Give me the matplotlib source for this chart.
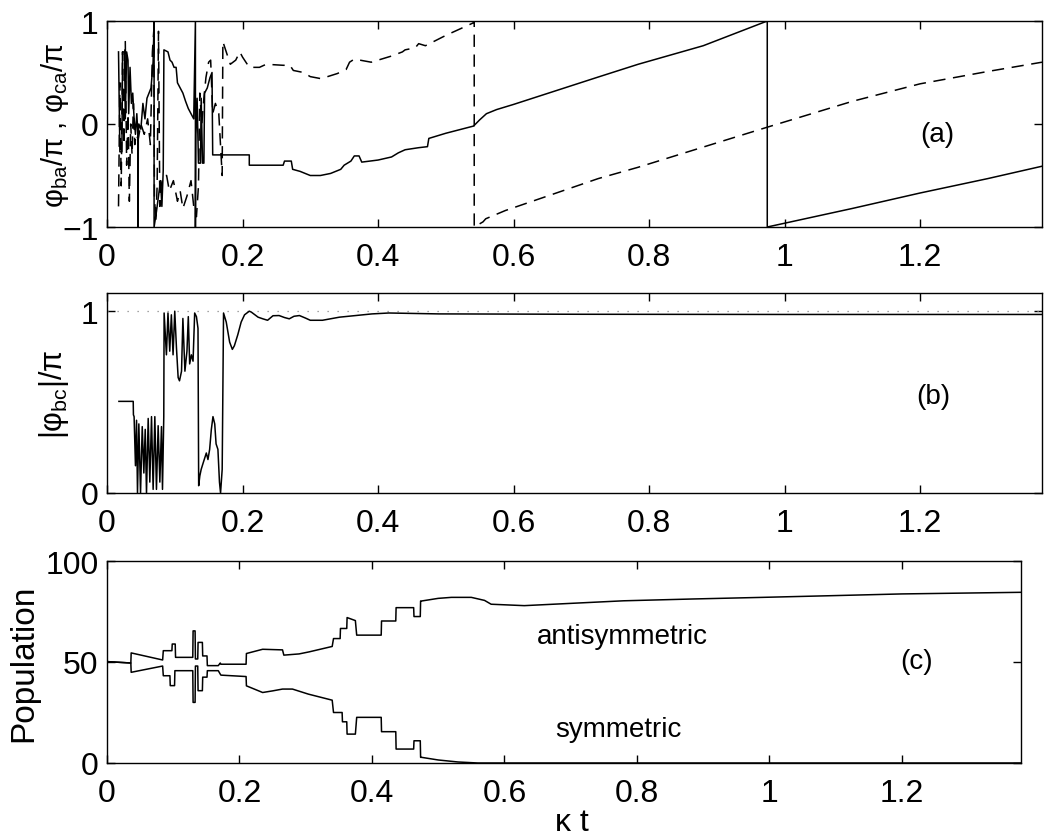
import matplotlib
matplotlib.use("Agg")
import matplotlib.pyplot as plt

plt.rcParams['font.family'] = ['Liberation Sans', 'DejaVu Sans']
plt.rcParams['mathtext.fontset'] = 'custom'
plt.rcParams['mathtext.rm'] = 'Liberation Sans'
plt.rcParams['mathtext.it'] = 'Liberation Sans:italic'
plt.rcParams['mathtext.sf'] = 'Liberation Sans'

# ---------------- data ----------------
# panel (a): phi_ba/pi (solid) and phi_ca/pi (dashed)
t_ba = [0.017, 0.019, 0.022, 0.023, 0.026, 0.027, 0.029, 0.031, 0.032, 0.034,
        0.036, 0.038, 0.040, 0.042, 0.044, 0.0458, 0.046, 0.0462, 0.047, 0.050,
        0.053, 0.056, 0.059, 0.062, 0.065, 0.068, 0.0695, 0.0695, 0.073, 0.076,
        0.079, 0.081, 0.083, 0.084, 0.090, 0.093, 0.096, 0.099, 0.102, 0.104,
        0.108, 0.112, 0.116, 0.120, 0.124, 0.128, 0.1305, 0.1305, 0.131, 0.133,
        0.135, 0.138, 0.139, 0.141, 0.143, 0.144, 0.148, 0.152, 0.155, 0.156,
        0.210, 0.210, 0.260, 0.262, 0.272, 0.274, 0.285, 0.300, 0.315, 0.330,
        0.345, 0.350, 0.360, 0.365, 0.372, 0.376, 0.400, 0.420, 0.430, 0.440,
        0.460, 0.473, 0.475, 0.500, 0.541, 0.550, 0.560, 0.575, 0.600, 0.725,
        0.784, 0.880, 0.9745, 0.9745, 1.100, 1.200, 1.300, 1.380]
v_ba = [0.70, -0.27, -0.27, 0.70, 0.70, 0.05, 0.70, 0.62, 0.10, 0.55,
        0.20, 0.30, 0.05, -0.10, 0.10, -0.12, -1.00, -0.10, 0.00, -0.05,
        0.20, 0.05, 0.25, 0.30, 0.35, 0.60, 1.00, -1.00, -0.85, -0.70,
        -0.55, -0.80, -0.45, 0.72, 0.70, 0.62, 0.60, 0.55, 0.55, 0.40,
        0.35, 0.30, 0.22, 0.15, 0.10, 0.05, 1.00, -1.00, -0.10, 0.25,
        -0.38, -0.38, 0.25, -0.38, -0.38, 0.30, 0.35, 0.45, 0.50, -0.30,
        -0.30, -0.40, -0.40, -0.36, -0.36, -0.44, -0.46, -0.50, -0.50, -0.48,
        -0.44, -0.40, -0.36, -0.31, -0.31, -0.37, -0.35, -0.32, -0.28, -0.25,
        -0.23, -0.22, -0.14, -0.09, -0.02, 0.04, 0.10, 0.14, 0.19, 0.456,
        0.58, 0.76, 1.00, -1.00, -0.82, -0.67, -0.53, -0.41]

t_ca = [0.017, 0.019, 0.021, 0.023, 0.025, 0.027, 0.029, 0.031, 0.033, 0.035,
        0.037, 0.039, 0.041, 0.043, 0.046, 0.050, 0.055, 0.060, 0.064, 0.067,
        0.069, 0.070, 0.072, 0.074, 0.076, 0.078, 0.080, 0.083, 0.088, 0.092,
        0.098, 0.104, 0.108, 0.112, 0.118, 0.124, 0.128, 0.132, 0.135, 0.137,
        0.140, 0.143, 0.146, 0.150, 0.153, 0.156, 0.160, 0.165, 0.170, 0.171,
        0.176, 0.182, 0.190, 0.196, 0.200, 0.205, 0.210, 0.225, 0.235, 0.260,
        0.270, 0.275, 0.290, 0.300, 0.316, 0.340, 0.353, 0.358, 0.365, 0.390,
        0.420, 0.436, 0.440, 0.455, 0.460, 0.470, 0.500, 0.540, 0.542, 0.542,
        0.555, 0.559, 0.588, 0.725, 0.784, 0.975, 1.100, 1.200, 1.300, 1.380]
v_ca = [-0.80, 0.40, -0.60, 0.70, -0.20, 0.80, -0.40, 0.10, -0.75, 0.00,
        -0.30, 0.20, -0.20, -0.10, -0.15, 0.00, -0.10, 0.05, -0.20, 0.70,
        0.90, -0.70, -0.95, -0.60, 0.90, -0.80, -0.60, -0.50, -0.50, -0.65,
        -0.55, -0.75, -0.65, -0.82, -0.70, -0.55, -0.80, -0.90, -0.60, 0.30,
        0.00, 0.25, 0.45, 0.60, 0.62, 0.10, 0.20, 0.10, -0.50, 0.80,
        0.70, 0.58, 0.62, 0.70, 0.65, 0.60, 0.55, 0.55, 0.58, 0.57,
        0.57, 0.52, 0.50, 0.46, 0.44, 0.49, 0.53, 0.60, 0.63, 0.60,
        0.66, 0.70, 0.72, 0.74, 0.78, 0.76, 0.86, 0.98, 1.00, -1.00,
        -0.95, -0.92, -0.84, -0.53, -0.42, -0.03, 0.22, 0.39, 0.51, 0.60]

# panel (b): |phi_bc|/pi
t_bc = [0.0176, 0.0387, 0.039, 0.040, 0.042, 0.0436, 0.045, 0.047, 0.0495, 0.052,
        0.0544, 0.0564, 0.0583, 0.0608, 0.0632, 0.0657, 0.0681, 0.0706, 0.073, 0.0755,
        0.078, 0.0804, 0.0819, 0.0838, 0.0843, 0.0877, 0.090, 0.0926, 0.095, 0.0975,
        0.100, 0.1025, 0.105, 0.107, 0.110, 0.112, 0.115, 0.118, 0.120, 0.122,
        0.1245, 0.127, 0.1294, 0.132, 0.1343, 0.1353, 0.137, 0.139, 0.142, 0.1466,
        0.149, 0.1515, 0.154, 0.1564, 0.159, 0.161, 0.1637, 0.166, 0.1676, 0.170,
        0.172, 0.176, 0.181, 0.185, 0.188, 0.193, 0.198, 0.203, 0.210, 0.213,
        0.223, 0.230, 0.237, 0.245, 0.254, 0.262, 0.269, 0.276, 0.284, 0.293,
        0.300, 0.318, 0.343, 0.391, 0.416, 0.490, 0.700, 1.000, 1.380]
v_bc = [0.504, 0.504, 0.43, 0.42, 0.15, 0.40, 0.00, 0.38, 0.00, 0.365,
        0.11, 0.35, 0.00, 0.41, 0.06, 0.42, 0.02, 0.42, 0.02, 0.37,
        0.06, 0.365, 0.02, 0.42, 0.99, 0.76, 0.99, 0.78, 0.98, 0.76,
        1.00, 0.80, 0.635, 0.617, 0.67, 0.96, 0.67, 0.78, 0.97, 0.71,
        0.76, 0.725, 0.99, 0.97, 0.906, 0.04, 0.094, 0.13, 0.166, 0.22,
        0.184, 0.24, 0.35, 0.42, 0.38, 0.27, 0.24, 0.06, 0.00, 0.13,
        0.99, 0.94, 0.83, 0.79, 0.81, 0.87, 0.94, 0.98, 1.00, 0.995,
        0.967, 0.958, 0.95, 0.975, 0.976, 0.965, 0.958, 0.972, 0.976, 0.962,
        0.95, 0.95, 0.967, 0.985, 0.99, 0.985, 0.983, 0.982, 0.982]

# panel (c): populations (%)
t_anti = [0.0, 0.036, 0.0365, 0.084, 0.085, 0.098, 0.0985, 0.103, 0.1035, 0.1295,
          0.130, 0.133, 0.1335, 0.137, 0.1375, 0.144, 0.1445, 0.151, 0.1515, 0.168,
          0.171, 0.172, 0.210, 0.2105, 0.235, 0.265, 0.267, 0.290, 0.305, 0.340,
          0.342, 0.352, 0.3525, 0.362, 0.3625, 0.375, 0.377, 0.414, 0.4145, 0.436,
          0.4365, 0.463, 0.4635, 0.473, 0.4735, 0.475, 0.500, 0.520, 0.550, 0.570,
          0.580, 0.630, 0.680, 0.780, 0.885, 0.990, 1.090, 1.200, 1.380]
v_anti = [50.2, 49.5, 54.5, 51.0, 55.6, 55.6, 58.9, 58.9, 52.3, 52.3,
          65.4, 65.4, 51.5, 51.5, 59.7, 59.7, 53.0, 53.0, 48.2, 48.2,
          49.5, 48.9, 48.9, 54.2, 56.3, 56.0, 53.4, 54.0, 55.0, 57.7,
          61.6, 61.6, 66.6, 66.6, 72.0, 70.5, 63.3, 63.3, 70.3, 70.3,
          76.9, 76.9, 72.5, 72.5, 80.2, 80.2, 81.5, 82.0, 82.0, 80.5,
          78.6, 77.9, 78.7, 80.3, 81.2, 82.0, 82.8, 83.7, 84.5]

t_sym = [0.0, 0.036, 0.0365, 0.084, 0.085, 0.095, 0.0955, 0.102, 0.1025, 0.1295,
         0.130, 0.133, 0.1335, 0.137, 0.1375, 0.144, 0.1445, 0.151, 0.1515, 0.168,
         0.171, 0.172, 0.210, 0.2105, 0.235, 0.250, 0.265, 0.280, 0.304, 0.340,
         0.342, 0.355, 0.3555, 0.362, 0.3625, 0.375, 0.377, 0.414, 0.4145, 0.436,
         0.4365, 0.463, 0.4635, 0.473, 0.4735, 0.475, 0.500, 0.530, 0.560, 1.380]
v_sym = [50.2, 49.5, 44.9, 48.0, 43.2, 43.2, 38.3, 38.3, 45.7, 45.7,
         30.0, 30.0, 48.0, 48.0, 35.8, 35.8, 42.5, 42.5, 45.7, 45.7,
         44.0, 43.5, 42.8, 38.2, 34.9, 35.7, 36.6, 36.6, 34.1, 31.1,
         25.0, 25.0, 20.4, 20.4, 14.3, 14.3, 22.6, 22.6, 15.5, 15.5,
         6.9, 6.9, 11.0, 11.0, 2.8, 2.8, 1.5, 0.5, 0.0, 0.0]

x_ticks = [0, 0.2, 0.4, 0.6, 0.8, 1, 1.2]
x_ticklabels = ['0', '0.2', '0.4', '0.6', '0.8', '1', '1.2']

# ---------------- figure ----------------
W, H = 1044, 837
fig = plt.figure(figsize=(W / 100, H / 100), dpi=100)


def ax_at(left, top, right, bottom):
    return fig.add_axes([left / W, (H - bottom) / H, (right - left) / W, (bottom - top) / H])


axa = ax_at(107, 22, 1042, 228)
axb = ax_at(107, 294, 1042, 494)
axc = ax_at(107, 562, 1021, 764)

TICK_FS = 23
for ax in (axa, axb, axc):
    ax.set_xlim(0, 1.38)
    ax.set_xticks(x_ticks)
    ax.set_xticklabels(x_ticklabels)
    ax.tick_params(direction='in', top=True, right=True, length=6, width=1,
                   labelsize=TICK_FS, pad=6)
    ax.tick_params(axis='x', pad=11)
    for s in ax.spines.values():
        s.set_linewidth(1.0)

lw = 1.1
# (a)
axa.plot(t_ba, v_ba, color='black', lw=lw)
axa.plot(t_ca, v_ca, color='black', lw=lw, linestyle=(0, (8, 5)))
axa.set_ylim(-1, 1)
axa.set_yticks([-1, 0, 1])
axa.set_yticklabels(['\u22121', '0', '1'])
axa.set_ylabel('φ$_{\\mathrm{ba}}$/π , φ$_{\\mathrm{ca}}$/π', fontsize=21)
axa.yaxis.set_label_coords(-36 / 935, 0.5)

# (b)
axb.axhline(1.0, color='#888888', lw=0.9, linestyle=(0, (1, 7)))
axb.plot(t_bc, v_bc, color='black', lw=lw)
axb.set_ylim(0, 1.1)
axb.set_yticks([0, 1])
axb.set_yticklabels(['0', '1'])
axb.set_ylabel('|φ$_{\\mathrm{bc}}$|/π', fontsize=22)
axb.yaxis.set_label_coords(-36 / 935, 0.5)

# (c)
axc.plot(t_anti, v_anti, color='black', lw=lw)
axc.plot(t_sym, v_sym, color='black', lw=lw)
axc.set_ylim(0, 100)
axc.set_yticks([0, 50, 100])
axc.set_yticklabels(['0', '50', '100'])
axc.set_ylabel('Population', fontsize=24)
axc.yaxis.set_label_coords(-68 / 914, 0.5)


# pixel-positioned annotations (y measured from the top)
def ptxt(x, y, s, **kw):
    fig.text(x / W, (H - y) / H, s, **kw)


ptxt(937, 135, '(a)', fontsize=20, ha='center', va='center')
ptxt(933, 397, '(b)', fontsize=20, ha='center', va='center')
ptxt(917, 662, '(c)', fontsize=20, ha='center', va='center')
ptxt(622, 637, 'antisymmetric', fontsize=20, ha='center', va='center')
ptxt(618, 730, 'symmetric', fontsize=20, ha='center', va='center')
ptxt(572, 838, 'κ t', fontsize=23, ha='center', va='bottom')

fig.savefig('out.png', dpi=100)
